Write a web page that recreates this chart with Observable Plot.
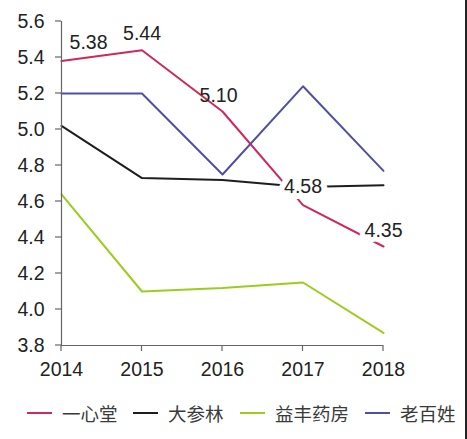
<!DOCTYPE html>
<html>
<head>
<meta charset="utf-8">
<script src="https://cdn.jsdelivr.net/npm/d3@7"></script>
<script src="https://cdn.jsdelivr.net/npm/@observablehq/plot@0.6"></script>
<style>
  html, body { margin: 0; padding: 0; background: #fff; }
  body { width: 467px; height: 439px; overflow: hidden; position: relative; font-family: "Liberation Sans", Arial, sans-serif; }
  #chart svg { display: block; }
  #legend { position: relative; height: 47px; font-family: "Noto Sans CJK SC", sans-serif; font-size: 18.5px; color: #3a3a3a; }
  .item { position: absolute; top: 8px; display: flex; align-items: center; white-space: nowrap; }
  .sw { width: 25px; height: 0; border-top: 2.5px solid; margin-right: 10px; }
  #edge { position: absolute; left: 465px; top: 0; width: 1.5px; height: 439px; background: #222; }
</style>
</head>
<body>
<div id="chart"></div>
<div id="legend"></div>
<div id="edge"></div>
<script>
const years = [2014, 2015, 2016, 2017, 2018];
const seriesNames = ["一心堂", "大参林", "益丰药房", "老百姓"];
const yixintang = [5.38, 5.44, 5.10, 4.58, 4.35];
const dashenlin = [5.02, 4.73, 4.72, 4.68, 4.69];
const yifeng = [4.64, 4.10, 4.12, 4.15, 3.87];
const laobaixing = [5.20, 5.20, 4.75, 5.24, 4.77];
const colors = ["#cc2a5c", "#1e1e1e", "#9dcc1e", "#4f4fa3"];
const yTicks = [3.8, 4.0, 4.2, 4.4, 4.6, 4.8, 5.0, 5.2, 5.4, 5.6];
const labelTexts = ["5.38", "5.44", "5.10", "4.58", "4.35"];

const allSeries = [yixintang, dashenlin, yifeng, laobaixing];
const rows = [];
allSeries.forEach((vals, i) => vals.forEach((v, j) => rows.push({series: seriesNames[i], year: years[j], value: v})));
const labels = yixintang.map((v, j) => ({year: years[j], value: v, text: labelTexts[j]}));

const FS = 19.5;
const W = 467, H = 392;
const chart = Plot.plot({
  width: W,
  height: H,
  marginLeft: 61,
  marginRight: 84,
  marginTop: 21,
  marginBottom: 47,
  style: {fontFamily: "'Liberation Sans', Arial, sans-serif", fontSize: FS + "px", color: "#222", background: "#fff"},
  x: {type: "linear", domain: [2014, 2018], axis: null},
  y: {domain: [3.8, 5.6], axis: null},
  color: {domain: seriesNames, range: colors},
  marks: [
    Plot.line(rows, {x: "year", y: "value", z: "series", stroke: "series", strokeWidth: 2}),
    Plot.text(labels.slice(0, 1), {x: "year", y: "value", text: "text", dx: 27, dy: -18, fontSize: FS, fill: "#222"}),
    Plot.text(labels.slice(1, 2), {x: "year", y: "value", text: "text", dy: -17, fontSize: FS, fill: "#222"}),
    Plot.text(labels.slice(2, 3), {x: "year", y: "value", text: "text", dx: -4, dy: -16, fontSize: FS, fill: "#222"}),
    Plot.text(labels.slice(3, 4), {x: "year", y: "value", text: "text", dy: -18, fontSize: FS, fill: "#222", stroke: "#fff", strokeWidth: 12, strokeLinejoin: "miter", paintOrder: "stroke"}),
    Plot.text(labels.slice(4), {x: "year", y: "value", text: "text", dy: -16, fontSize: FS, fill: "#222", stroke: "#fff", strokeWidth: 10, paintOrder: "stroke"}),
    // y axis
    Plot.ruleX([2014], {y1: 3.8, y2: 5.6, stroke: "#666", strokeWidth: 1.2}),
    Plot.text(yTicks, {x: 2014, y: d => d, text: d => d.toFixed(1), textAnchor: "end", dx: -17, fontSize: FS, fill: "#222"}),
    // x axis
    Plot.ruleY([3.8], {x1: 2014, x2: 2018, stroke: "#666", strokeWidth: 1.2}),
    Plot.text(years, {x: d => d, y: 3.8, text: d => String(d), dy: 24, fontSize: FS, fill: "#222"})
  ]
});
document.getElementById("chart").appendChild(chart);

// tick marks positioned through the plot's scales
const svg = d3.select(chart);
const xs = chart.scale("x"), ys = chart.scale("y");
const g = svg.append("g").attr("stroke", "#666").attr("stroke-width", 1.2);
years.forEach(y => g.append("line").attr("x1", xs.apply(y)).attr("x2", xs.apply(y)).attr("y1", ys.apply(3.8)).attr("y2", ys.apply(3.8) + 6));
yTicks.forEach(t => g.append("line").attr("x1", xs.apply(2014) - 6).attr("x2", xs.apply(2014)).attr("y1", ys.apply(t)).attr("y2", ys.apply(t)));

// legend
const leg = document.getElementById("legend");
const lefts = [27, 133, 240, 365];
seriesNames.forEach((n, i) => {
  const it = document.createElement("div");
  it.className = "item";
  it.style.left = lefts[i] + "px";
  it.innerHTML = `<span class="sw" style="border-color:${colors[i]}"></span><span>${n}</span>`;
  leg.appendChild(it);
});
</script>
</body>
</html>
